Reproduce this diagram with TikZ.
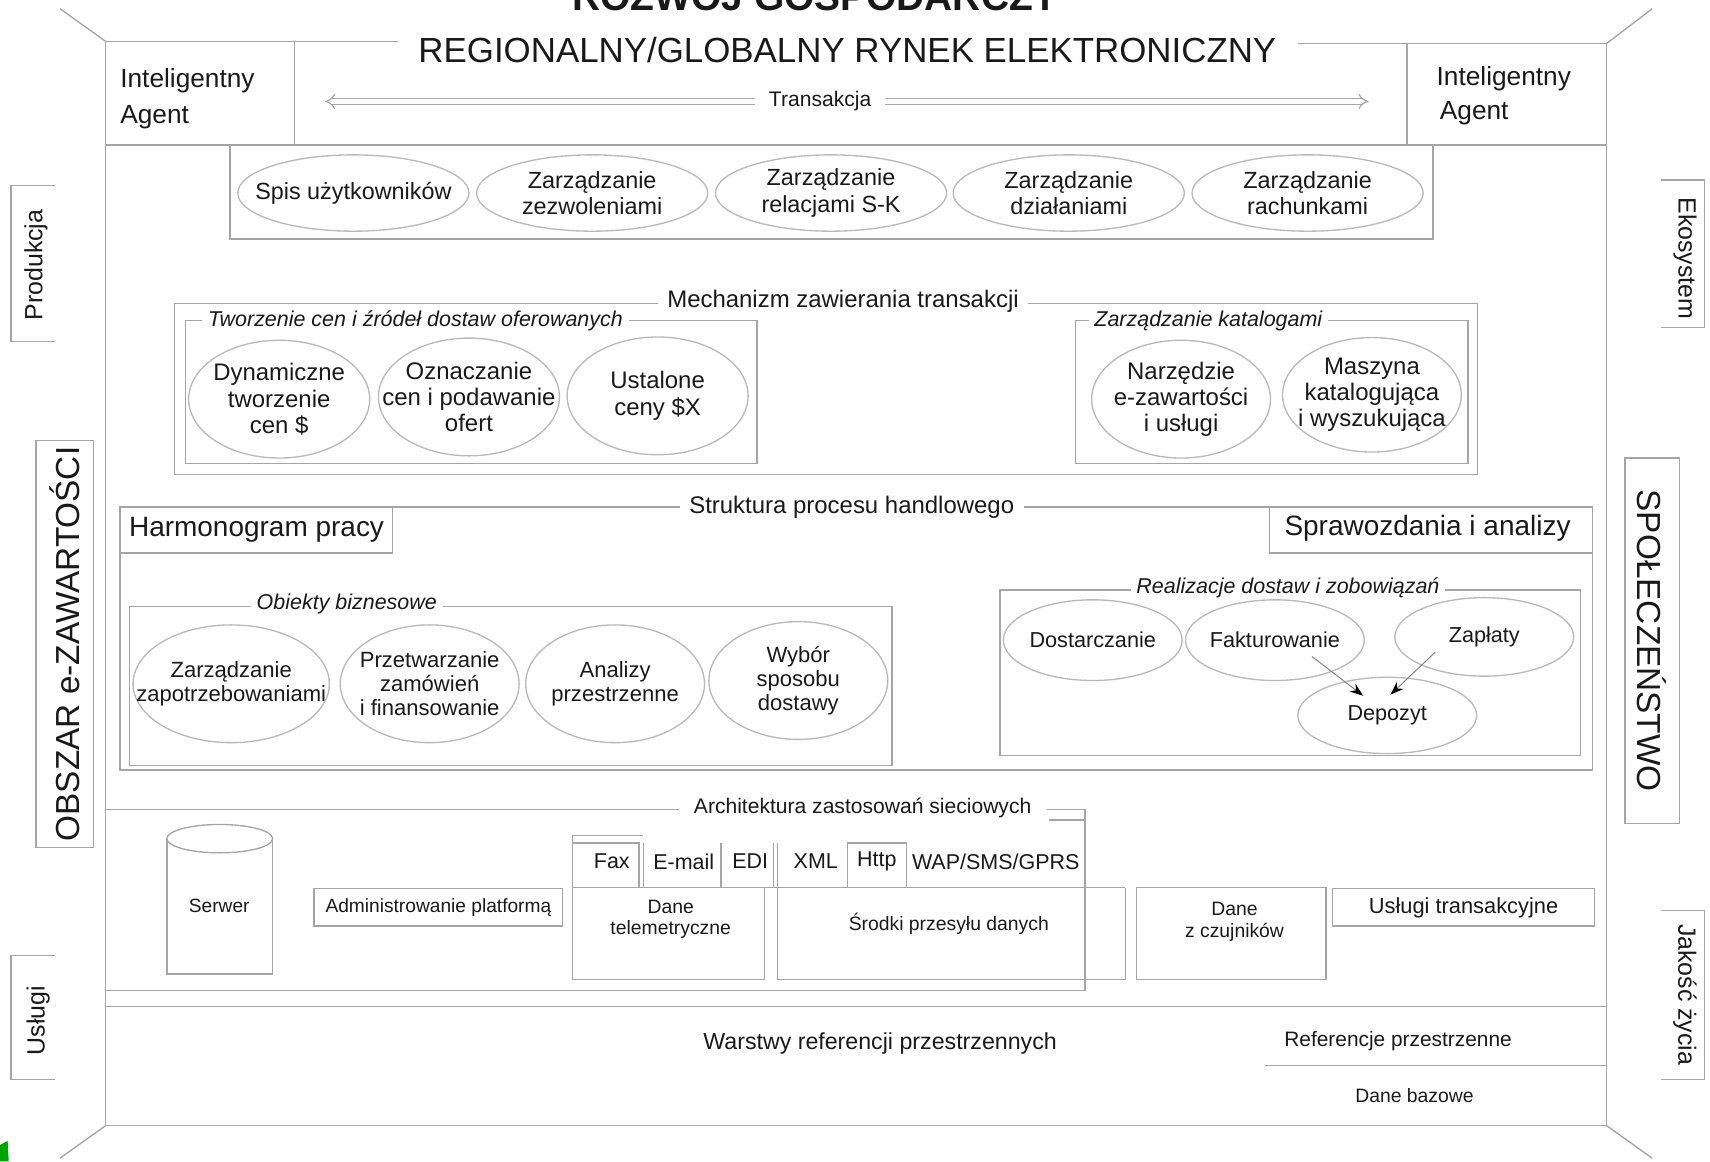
\documentclass[tikz,border=0pt]{standalone}
\usepackage{fontspec}
\setmainfont{Liberation Sans}
\usetikzlibrary{shapes.geometric, arrows.meta, calc}

\definecolor{linegray}{RGB}{165,165,165}
\definecolor{ovalgray}{RGB}{185,185,185}
\definecolor{ink}{RGB}{25,25,25}

\newcommand{\fsize}[2]{\fontsize{#1}{#2}\selectfont}

\tikzset{
  frame/.style={draw=linegray, line width=0.7pt},
  lbl/.style={text=ink, inner sep=0pt, align=center},
  oval/.style={ellipse, draw=ovalgray, line width=0.7pt, align=center, inner sep=-3cm, text=ink},
  seclbl/.style={lbl, fill=white, inner xsep=5pt, font=\fsize{12.5}{14}},
  itlbl/.style={lbl, fill=white, inner xsep=3pt, font=\itshape\fsize{11.2}{13}},
  sidetab/.style={lbl, font=\fsize{13}{15}},
  bigtab/.style={lbl, draw=linegray, line width=0.7pt, font=\fsize{17.4}{20}},
  arrowline/.style={draw=linegray, line width=0.6pt, double=white, double distance=2.2pt, -{Implies}},
  depo/.style={draw=gray, line width=0.5pt, -{Stealth[length=7pt, width=5pt, color=black]}},
}

\begin{document}
\begin{tikzpicture}[x=0.02cm, y=-0.02cm]
\useasboundingbox (0,0) rectangle (1568,1065);

% ramka zewnetrzna
\draw[frame] (97,38) -- (97,1032) -- (1473,1032) -- (1473,40);
\draw[frame] (55,8) -- (97,38);
\draw[frame] (1515,8) -- (1473,40);
\draw[frame] (97,1032) -- (55,1062);
\draw[frame] (1473,1032) -- (1515,1062);
\fill[green!65!black] (0,1050) -- (7,1046) -- (8,1065) -- (0,1065) -- cycle;

% rynek elektroniczny
\node[lbl, anchor=base, font=\bfseries\fsize{20.3}{22}] (rozwoj) at (748,10) {ROZWÓJ GOSPODARCZY};
\node[lbl, font=\fsize{18.2}{20}] (rynek) at (777,46) {REGIONALNY/GLOBALNY RYNEK ELEKTRONICZNY};
\draw[frame] (97,38) -- (365,38);
\draw[frame] (1190,40) -- (1473,40);
\draw[frame] (97,133) -- (1473,133);
\draw[frame] (97,38) rectangle (270,133);
\draw[frame] (1290,40) rectangle (1473,133);
\node[lbl, anchor=base west, font=\fsize{13.7}{16}] (agentL1) at (110,80) {Inteligentny};
\node[lbl, anchor=base west, font=\fsize{13.7}{16}] (agentL2) at (110,113) {Agent};
\node[lbl, anchor=base west, font=\fsize{13.7}{16}] (agentR1) at (1317,78) {Inteligentny};
\node[lbl, anchor=base west, font=\fsize{13.7}{16}] (agentR2) at (1320,110) {Agent};
\node[lbl, inner xsep=7pt, font=\fsize{11}{13}] (trans) at (752,93) {Transakcja};
\draw[arrowline] (trans.west) -- (298,93);
\draw[arrowline] (trans.east) -- (1255,93);

% uslugi uzytkownika
\draw[frame] (211,133) rectangle (1314,219);
\foreach \x/\name/\txt in {324/spis/Spis użytkowników, 543/zezw/Zarządzanie\\zezwoleniami,
    762/relac/Zarządzanie\\relacjami S-K, 980/dzial/Zarządzanie\\działaniami, 1199/rach/Zarządzanie\\rachunkami}
  \node[oval, minimum width=4.24cm, minimum height=1.4cm, font=\fsize{12.2}{13.7}] (\name) at (\x,177) {\txt};

% zakladki boczne
\draw[frame] (50,170) -- (10,170) -- (10,313) -- (50,313);
\node[sidetab, rotate=90] (prod) at (33,243) {Produkcja};
\node[bigtab, rotate=90, minimum width=7.46cm, minimum height=1.06cm] (obszar) at (59.5,590.5) {OBSZAR e-ZAWARTOŚCI};
\draw[frame] (50,876) -- (10,876) -- (10,990) -- (50,990);
\node[sidetab, rotate=90] (uslugi) at (35,936) {Usługi};
\draw[frame] (1523,165) -- (1563,165) -- (1563,300) -- (1523,300);
\node[sidetab, rotate=-90] (eko) at (1545,237) {Ekosystem};
\node[bigtab, rotate=-90, minimum width=6.7cm, minimum height=1cm] (spol) at (1515,587.5) {SPOŁECZEŃSTWO};
\draw[frame] (1523,835) -- (1563,835) -- (1563,990) -- (1523,990);
\node[sidetab, rotate=-90] (jakosc) at (1545,912) {Jakość życia};

% mechanizm zawierania transakcji
\draw[frame] (160,278) rectangle (1355,435);
\node[seclbl] (mech) at (773,276) {Mechanizm zawierania transakcji};
\draw[frame] (170,294) rectangle (694,425);
\node[itlbl] (tworz) at (381,294) {Tworzenie cen i źródeł dostaw oferowanych};
\node[oval, minimum width=3.32cm, minimum height=2.16cm, font=\fsize{12.5}{13.7}] (dyn) at (256,366) {Dynamiczne\\tworzenie\\cen \$};
\node[oval, minimum width=3.32cm, minimum height=2.16cm, font=\fsize{12.5}{13.7}] (ozn) at (430,364) {Oznaczanie\\cen i podawanie\\ofert};
\node[oval, minimum width=3.32cm, minimum height=2.16cm, font=\fsize{12.5}{13.7}] (ust) at (603,363) {Ustalone\\ceny \$X};
\draw[frame] (986,294) rectangle (1346,425);
\node[itlbl] (katal) at (1108,294) {Zarządzanie katalogami};
\node[oval, minimum width=3.28cm, minimum height=2.16cm, font=\fsize{12.5}{13.7}] (narz) at (1083,366) {Narzędzie\\e-zawartości\\i usługi};
\node[oval, minimum width=3.28cm, minimum height=2.1cm, font=\fsize{12.5}{13.7}] (masz) at (1258,362) {Maszyna\\katalogująca\\i wyszukująca};

% struktura procesu handlowego
\draw[frame] (110,465) rectangle (1460,706);
\node[seclbl] (strukt) at (781,465) {Struktura procesu handlowego};
\draw[frame] (110,465) rectangle (360,507);
\node[lbl, anchor=west, font=\fsize{14.6}{16}] (harm) at (118,486) {Harmonogram pracy};
\draw[frame] (1164,465) rectangle (1460,507);
\node[lbl, font=\fsize{14.6}{16}] (spraw) at (1309,484) {Sprawozdania i analizy};
\draw[frame] (119,556) rectangle (818,702);
\node[itlbl] (obiekty) at (318,554) {Obiekty biznesowe};
\node[oval, minimum width=3.6cm, minimum height=2.16cm, font=\fsize{11.5}{12.5}] (zapotrz) at (212,627) {Zarządzanie\\zapotrzebowaniami};
\node[oval, minimum width=3.28cm, minimum height=2.16cm, font=\fsize{11.5}{12.5}] (przetw) at (394,627) {Przetwarzanie\\zamówień\\i finansowanie};
\node[oval, minimum width=3.28cm, minimum height=2.16cm, font=\fsize{11.5}{12.5}] (analizy) at (564,627) {Analizy\\przestrzenne};
\node[oval, minimum width=3.28cm, minimum height=2.16cm, font=\fsize{11.5}{12.5}] (wybor) at (732,624) {Wybór\\sposobu\\dostawy};
\draw[frame] (917,541) rectangle (1449,693);
\node[itlbl] (realiz) at (1181,539) {Realizacje dostaw i zobowiązań};
\node[oval, minimum width=3.28cm, minimum height=1.48cm, font=\fsize{11.3}{13}] (dost) at (1002,587) {Dostarczanie};
\node[oval, minimum width=3.28cm, minimum height=1.48cm, font=\fsize{11.3}{13}] (fak) at (1169,587) {Fakturowanie};
\node[oval, minimum width=3.28cm, minimum height=1.44cm, font=\fsize{11.3}{13}] (zap) at (1361,584) {Zapłaty};
\node[oval, minimum width=3.28cm, minimum height=1.4cm, font=\fsize{11.3}{13}] (dep) at (1272,656) {Depozyt};
\draw[depo] ($(fak)+(34,15)$) -- ($(dep)+(-22,-18)$);
\draw[depo] ($(zap)+(-45,14)$) -- ($(dep)+(3,-19)$);

% architektura zastosowan sieciowych
\draw[frame] (97,742) -- (995,742) -- (995,908) -- (97,908);
\draw[frame] (962,752) -- (995,752);
\node[seclbl, inner xsep=8pt, font=\fsize{11}{13}] (arch) at (791,741) {Architektura zastosowań sieciowych};
\draw[frame] (153,769) -- (153,893) -- (250,893) -- (250,769);
\draw[frame] (201.5,769) ellipse (48.5 and 13);
\node[lbl, font=\fsize{10}{12}] (serwer) at (201,831) {Serwer};
\node[lbl, draw=linegray, line width=0.7pt, minimum width=4.56cm, minimum height=0.68cm, font=\fsize{10}{12}] (admin) at (402,832) {Administrowanie platformą};
\draw[frame] (525,766) -- (590,766);
\draw[frame] (525,766) -- (525,898) -- (701,898) -- (701,814);
\draw[frame] (525,773) -- (586,773) -- (586,814);
\draw[frame] (590,773) -- (590,814);
\draw[frame] (661,773) -- (661,814);
\draw[frame] (709,773) -- (709,814);
\draw[frame] (777,773) rectangle (831,814);
\draw[frame] (713,773) -- (713,898) -- (1032,898) -- (1032,814);
\draw[frame] (525,814) -- (1032,814);
\foreach \x/\name/\txt in {561/fax/Fax, 627/email/E-mail, 688/edi/EDI, 748/xml/XML, 804/http/Http, 913/wap/{WAP/SMS/GPRS}}
  \node[lbl, font=\fsize{11.2}{13}] (\name) at (\x,790) {\txt};
\node[lbl, font=\fsize{10.1}{11.4}] (tele) at (615,843) {Dane\\telemetryczne};
\node[lbl, font=\fsize{10.1}{11.4}] (srodki) at (870,847) {Środki przesyłu danych};
\draw[frame] (1042,814) rectangle (1216,898);
\node[lbl, font=\fsize{10.1}{11.4}] (czujn) at (1132,845) {Dane\\z czujników};
\node[lbl, draw=linegray, line width=0.7pt, minimum width=4.8cm, minimum height=0.68cm, font=\fsize{11.4}{13}] (ustrans) at (1342,832) {Usługi transakcyjne};

% warstwy referencji przestrzennych
\draw[frame] (97,923) -- (1473,923);
\node[lbl, font=\fsize{12.1}{14}] (warstwy) at (807,957) {Warstwy referencji przestrzennych};
\node[lbl, font=\fsize{10.9}{13}] (refprz) at (1282,955) {Referencje przestrzenne};
\draw[frame] (1160,977) -- (1473,977);
\node[lbl, font=\fsize{10.1}{12}] (danebaz) at (1297,1005) {Dane bazowe};
\end{tikzpicture}
\end{document}
